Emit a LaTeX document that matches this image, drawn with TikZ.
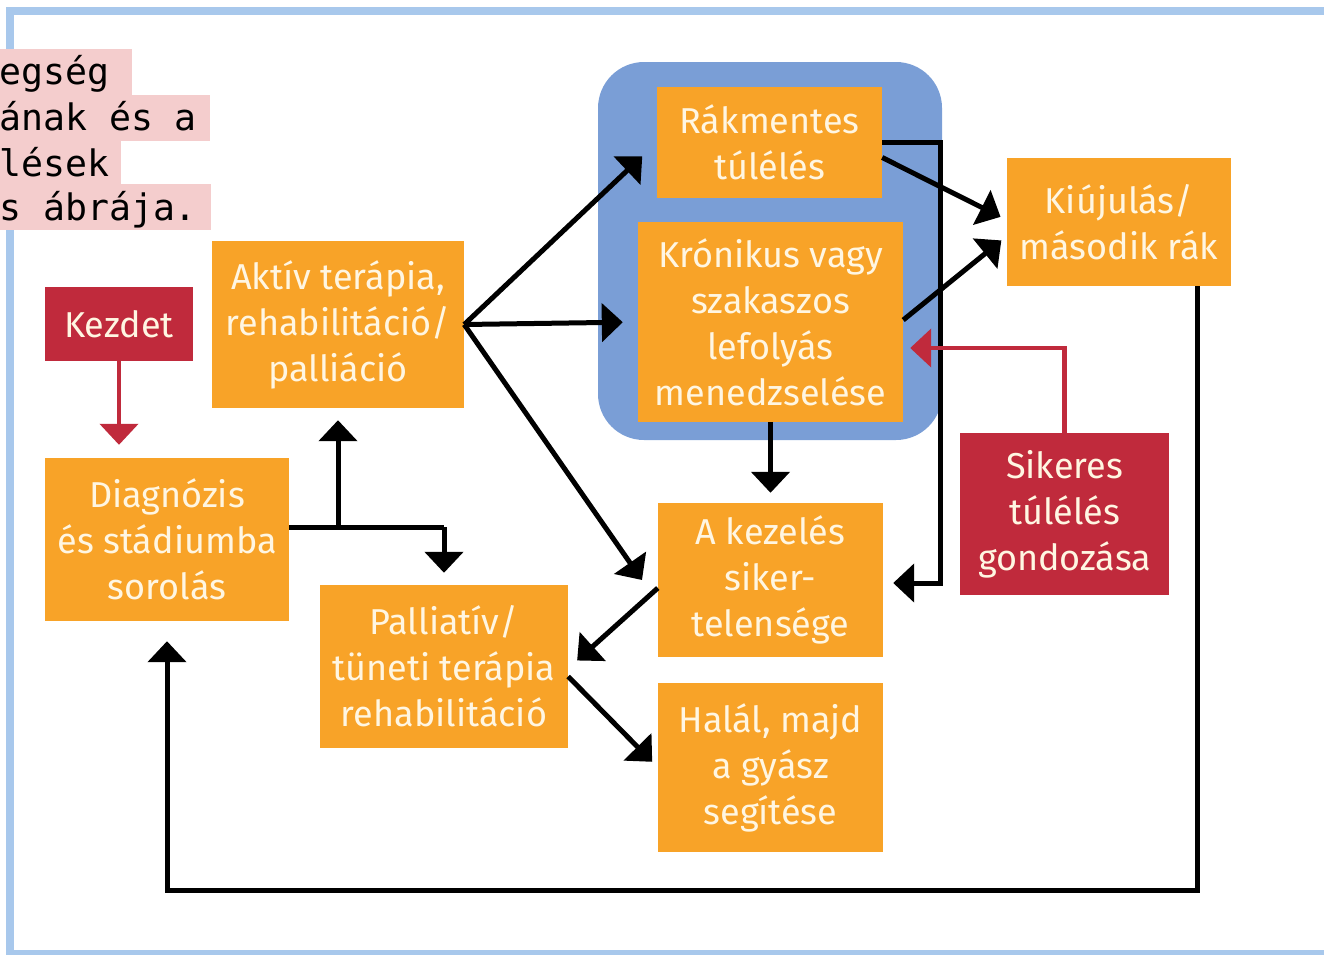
\documentclass[tikz,border=0pt]{standalone}
\usepackage{fontspec}
\setmainfont{Fira Sans}
\newfontfamily\capmono{DejaVu Sans Mono}
\usetikzlibrary{arrows.meta,calc}
\definecolor{orng}{RGB}{248,163,40}
\definecolor{redbox}{RGB}{192,42,60}
\definecolor{grpblue}{RGB}{122,158,214}
\definecolor{framebl}{RGB}{168,200,236}
\definecolor{pinkbg}{RGB}{244,205,205}
\definecolor{cream}{RGB}{255,246,226}
\begin{document}
\begin{tikzpicture}[x=1pt,y=-1pt,
  box/.style={fill=orng, text=cream, inner sep=0pt, align=center,
    font=\fontsize{36}{46}\selectfont},
  redbx/.style={box, fill=redbox},
  grp/.style={fill=grpblue, rounded corners=46pt, inner sep=0pt},
  conn/.style={line width=5pt, black, -{Triangle[length=21pt,width=38pt]}},
  plain/.style={line width=5pt, black},
  redconn/.style={line width=4.5pt, redbox, -{Triangle[length=21pt,width=38pt]}},
  caprow/.style={fill=pinkbg},
  captxt/.style={anchor=base west, inner sep=0pt, font=\capmono\fontsize{36.5}{45}\selectfont}
]
\useasboundingbox (0,0) rectangle (1324,954);
% frame
\draw[framebl, line width=8pt] (1330,11) -- (10,11) -- (10,954) -- (1330,954);

% caption highlight
\fill[caprow] (0,49) rectangle (132,95);
\fill[caprow] (0,95) rectangle (210,141);
\fill[caprow] (0,141) rectangle (121,184);
\fill[caprow] (0,184) rectangle (211,230);
\node[captxt] (cap1) at (-1,84) {egség};
\node[captxt] (cap2) at (-1,130) {ának és a};
\node[captxt] (cap3) at (-1,176) {lések};
\node[captxt] (cap4) at (-1,220) {s ábrája.};

% group
\node[grp, minimum width=344pt, minimum height=378pt] (group) at (770,251) {};

% boxes
\node[box, minimum width=225pt, minimum height=111pt] (rak) at (769.5,142.5) {Rákmentes\\túlélés};
\node[box, minimum width=265pt, minimum height=200pt] (kron) at (770.5,322) {Krónikus vagy\\szakaszos\\lefolyás\\menedzselése};
\node[box, minimum width=224pt, minimum height=128pt] (kiu) at (1119,222) {Kiújulás/\\második rák};
\node[redbx, minimum width=209pt, minimum height=162pt] (sik) at (1064.5,514) {Sikeres\\túlélés\\gondozása};
\node[redbx, minimum width=148pt, minimum height=74pt] (kezdet) at (119,324) {Kezdet};
\node[box, minimum width=252pt, minimum height=167pt] (aktiv) at (338,324.5) {Aktív terápia,\\rehabilitáció/\\palliáció};
\node[box, minimum width=244pt, minimum height=163pt] (diag) at (167,539.5) {Diagnózis\\és stádiumba\\sorolás};
\node[box, minimum width=248pt, minimum height=163pt] (pall) at (444,666.5) {Palliatív/\\tüneti terápia\\rehabilitáció};
\node[box, minimum width=225pt, minimum height=154pt] (kez) at (770.5,580) {A kezelés\\siker-\\telensége};
\node[box, minimum width=225pt, minimum height=169pt] (hal) at (770.5,767.5) {Halál, majd\\a gyász\\segítése};

% helper coordinates
\coordinate (j1) at (338,527);
\coordinate (j2) at (444,527);
\coordinate (t3) at (642,580);
\coordinate (c1) at (940,142.5);
\coordinate (c2) at (940,583);
\coordinate (r1) at (0,348);
\coordinate (b1) at (1197,890);

% connectors
\draw[redconn, shorten >=13pt] (kezdet.south) -- (kezdet.south |- diag.north);
\draw[plain] (diag.east |- j1) -- (j2);
\draw[conn, shorten >=12pt] (j1) -- (aktiv.south -| j1);
\draw[conn, shorten >=12pt] (j2) -- (pall.north);
\draw[conn, shorten >=15pt] (aktiv.east) -- (kron.west);
\draw[conn, shorten >=20pt] (aktiv.east) -- (rak.west);
\draw[conn] (aktiv.east) -- (t3);
\draw[conn, shorten >=10pt] (kron.south) -- (kez.north);
\draw[conn, shorten >=10pt] (rak.east) -- (c1) -- (c2) -- (kez.east |- c2);
\draw[conn, shorten >=7pt] ([yshift=-15pt]rak.east) -- ([yshift=2pt]kiu.west);
\draw[conn, shorten >=7pt] ([yshift=2pt]kron.east) -- ([yshift=-14pt]kiu.west);
\draw[redconn, shorten >=7pt] (sik.north) |- (kron.east |- r1);
\draw[conn, shorten >=12pt] ([yshift=-8pt]kez.west) -- ([yshift=-2pt]pall.east);
\draw[conn, shorten >=8pt] ([yshift=-10pt]pall.east) -- (hal.west);
\draw[conn, shorten >=20pt] (kiu.south -| b1) -- (b1) -- (diag.south |- b1) -- (diag.south);
\end{tikzpicture}
\end{document}
